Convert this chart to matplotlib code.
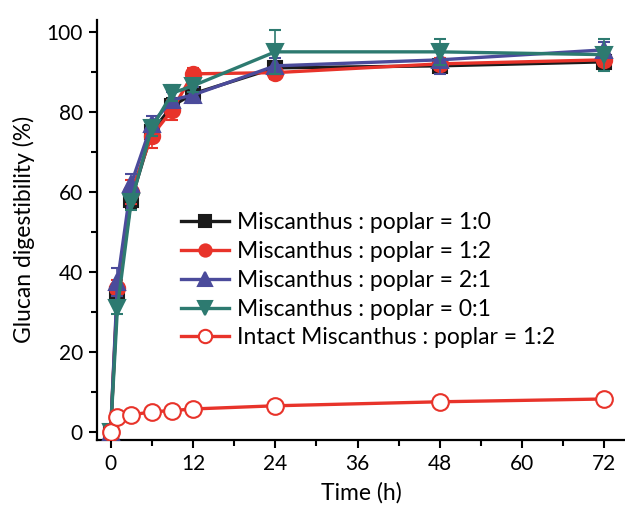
import numpy as np
import matplotlib
matplotlib.use("Agg")
import matplotlib.pyplot as plt
from matplotlib.ticker import MultipleLocator

plt.rcParams['font.family'] = ['Lato', 'DejaVu Sans']

time = [0, 1, 3, 6, 9, 12, 24, 48, 72]

m10 = [0, 34.5, 58, 75, 81.5, 84.5, 91, 91.5, 92.5]
m10_err = [0, 1.5, 2, 2, 2, 1.5, 1.5, 1.5, 1.5]

m12 = [0, 36, 60, 74, 80.5, 89.5, 89.8, 92, 93]
m12_err = [0, 2, 3, 3, 2.5, 1.5, 1.5, 1.5, 1.5]

m21 = [0, 37.5, 62, 77, 83, 84.2, 91.5, 93, 95.5]
m21_err = [0, 3.5, 2.5, 2, 2, 2, 2, 3.5, 2]

m01 = [0, 31, 57.5, 76, 84.7, 86.5, 95, 95, 94.3]
m01_err = [0, 1.5, 2, 2, 2, 1.5, 5.5, 3.2, 4]

intact = [0, 3.6, 4.2, 5.0, 5.3, 5.7, 6.5, 7.5, 8.2]
intact_err = [0, 0.8, 1, 1, 1, 1, 0.8, 0.8, 0.8]

labels = ['Miscanthus : poplar = 1:0',
          'Miscanthus : poplar = 1:2',
          'Miscanthus : poplar = 2:1',
          'Miscanthus : poplar = 0:1',
          'Intact Miscanthus : poplar = 1:2']

fig = plt.figure(figsize=(6.25, 5.09), dpi=100)
ax = fig.add_axes([0.155, 0.136, 0.845, 0.825])

series = [
    (m10, m10_err, '#1a1a1a', 's', 10, True),
    (m12, m12_err, '#e8332a', 'o', 11, True),
    (m21, m21_err, '#4b4b9b', '^', 12, True),
    (m01, m01_err, '#2d7a70', 'v', 12, True),
    (intact, intact_err, '#e8332a', 'o', 12, False),
]

handles = []
for i, (vals, err, color, mk, ms, filled) in enumerate(series):
    cont = ax.errorbar(time, vals, yerr=err, color=color, marker=mk, markersize=ms,
                       markerfacecolor=color if filled else 'white',
                       markeredgecolor=color, markeredgewidth=1.5,
                       lw=2.4, elinewidth=1.2, capsize=4, capthick=1.2,
                       label=labels[i], zorder=3 + i)
    handles.append(cont[0])

ax.set_xlim(-2, 75)
ax.set_ylim(-2, 103)
ax.xaxis.set_major_locator(MultipleLocator(12))
ax.xaxis.set_minor_locator(MultipleLocator(6))
ax.yaxis.set_major_locator(MultipleLocator(20))
ax.yaxis.set_minor_locator(MultipleLocator(10))

for s in ['top', 'right']:
    ax.spines[s].set_visible(False)
for s in ['left', 'bottom']:
    ax.spines[s].set_linewidth(1.6)

ax.tick_params(which='major', direction='out', length=6, width=1.5, labelsize=15, pad=4)
ax.tick_params(which='minor', direction='out', length=4, width=1.5)

ax.set_xlabel('Time (h)', fontsize=16.5, labelpad=6)
ax.set_ylabel('Glucan digestibility (%)', fontsize=16.5, labelpad=8)

leg = ax.legend(handles, labels, loc='upper left', bbox_to_anchor=(0.128, 0.58),
                frameon=False, fontsize=16.5, handlelength=2.1, labelspacing=0.34,
                handletextpad=0.35, markerscale=0.8, borderpad=0.2)

plt.savefig('out.png', dpi=100)
